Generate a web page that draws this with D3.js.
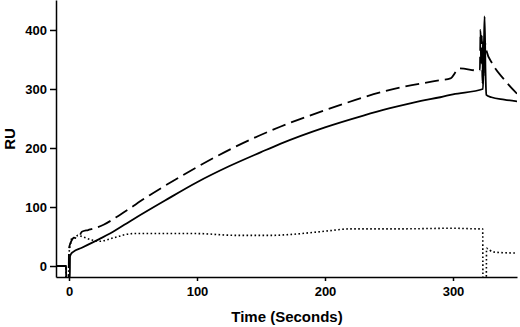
<!DOCTYPE html>
<html>
<head>
<meta charset="utf-8">
<script src="https://cdn.jsdelivr.net/npm/d3@7"></script>
<style>
  body { margin: 0; background: #fff; }
  svg { display: block; font-family: "Liberation Sans", Arial, sans-serif; }
  .axis text { font-size: 13px; font-weight: bold; fill: #000; }
  .axis path, .axis line { stroke: #000; stroke-width: 1.5px; }
  .label { font-size: 15px; font-weight: bold; fill: #000; }
</style>
</head>
<body>
<div id="chart"></div>
<script>
// datos:
const xTicks = [0, 100, 200, 300]
const yTicks = [0, 100, 200, 300, 400]

// serie continua
const timeSolid = [-10.2, -2.3, -2.2, 0.6, 0.8, 1.5, 3.3, 10, 24, 32, 50, 75, 100, 125, 150, 165, 200, 230, 250, 275, 290, 300, 323.4, 324.2, 324.7, 325.4, 326, 330, 340, 350]
const ruSolid   = [0, 0, -25, -25, 16, 20, 24, 31, 46, 55, 79, 111, 142, 169, 193, 207, 235, 255, 267, 280, 286, 291, 300, 380, 423, 330, 290, 286, 282, 279]

// serie discontinua (rayas)
const timeDashed = [-10.2, -2.3, -2.2, -0.3, 0, 1, 2.5, 4, 6, 8, 10, 15, 20, 27, 40, 63, 89, 128, 165, 200, 250, 290, 298, 305, 320.6, 321, 321.5, 322, 322.5, 323, 323.5, 324, 324.5, 325.5, 326, 331, 340, 350]
const ruDashed   = [0, 0, -25, -25, 30, 38, 45, 48, 47, 50, 58, 61, 64, 70, 87, 120, 154, 200, 236, 264, 298, 315, 318, 335, 331, 331, 400, 340, 390, 310, 385, 320, 380, 375, 366, 342, 316, 292]

// serie punteada
const timeDotted = [-10.2, -2.3, -2.2, -0.5, 0, 1, 2.5, 4, 7, 10, 18, 24, 35, 50, 100, 130, 160, 170, 200, 220, 260, 300, 320, 323.2, 323.4, 326, 326.2, 331, 340, 350]
const ruDotted   = [0, 0, -25, -25, 20, 35, 49, 48, 52, 50, 44, 42, 48, 55, 55, 52, 52, 53, 59, 63, 63, 64, 63, 63, -25, -25, 30, 24, 22.5, 22]

// Constantes:
const width = 520
const height = 327
const margins = { top: 0, left: 56, right: 3, bottom: 50 }

let svg = d3.select('div#chart').append('svg').attr('width', width).attr('height', height)

// escalas:
let x = d3.scaleLinear().domain([-10.16, 350]).range([margins.left, width - margins.right])
let y = d3.scaleLinear().domain([-18.6, 450.8]).range([height - margins.bottom, margins.top])

svg.append('clipPath').attr('id', 'plotClip')
  .append('rect')
  .attr('x', margins.left).attr('y', margins.top)
  .attr('width', width - margins.right - margins.left)
  .attr('height', height - margins.bottom - margins.top)

// lineas:
let line = d3.line().x(d => x(d[0])).y(d => y(d[1])).curve(d3.curveMonotoneX)
let series = [
  { t: timeSolid, v: ruSolid, dash: null, w: 1.8 },
  { t: timeDashed, v: ruDashed, dash: '14,6', w: 1.8 },
  { t: timeDotted, v: ruDotted, dash: '1.6,2.4', w: 1.6 }
]

let elementGroup = svg.append('g').attr('id', 'elementGroup').attr('clip-path', 'url(#plotClip)')
elementGroup.selectAll('path')
  .data(series)
  .enter().append('path')
  .attr('d', s => line(d3.zip(s.t, s.v)))
  .attr('fill', 'none')
  .attr('stroke', '#000')
  .attr('stroke-width', s => s.w)
  .attr('stroke-dasharray', s => s.dash)
  .attr('stroke-linejoin', 'round')

// ejes:
let xAxis = d3.axisBottom(x).tickValues(xTicks).tickSize(4).tickSizeOuter(0).tickPadding(6)
let yAxis = d3.axisLeft(y).tickValues(yTicks).tickSize(6).tickSizeOuter(0).tickPadding(3)

svg.append('g').attr('class', 'axis')
  .attr('transform', `translate(0, ${height - margins.bottom})`)
  .call(xAxis)
svg.append('g').attr('class', 'axis')
  .attr('transform', `translate(${margins.left}, 0)`)
  .call(yAxis)

// titulos de ejes:
svg.append('text').attr('class', 'label')
  .attr('text-anchor', 'middle')
  .attr('x', 287).attr('y', 322)
  .text('Time (Seconds)')
svg.append('text').attr('class', 'label')
  .attr('text-anchor', 'middle')
  .attr('transform', 'translate(15, 139) rotate(-90)')
  .text('RU')
</script>
</body>
</html>
